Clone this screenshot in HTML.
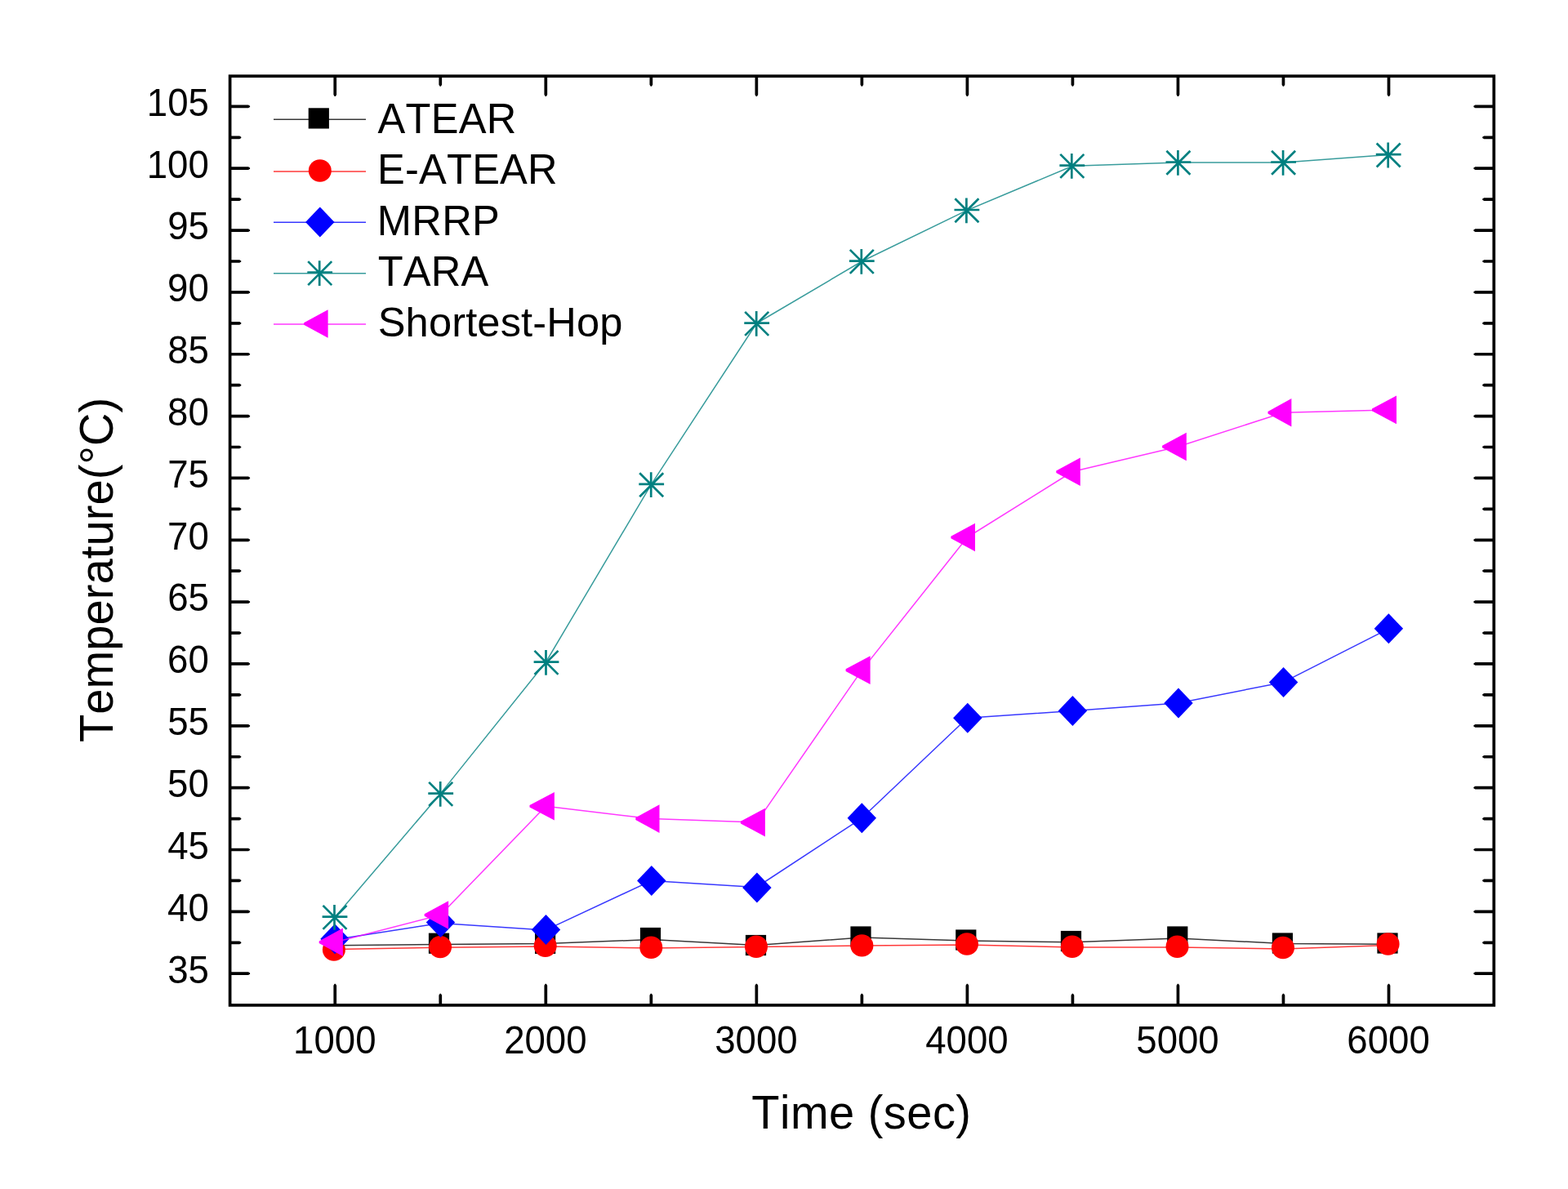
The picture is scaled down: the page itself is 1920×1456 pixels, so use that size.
<!DOCTYPE html>
<html lang="en"><head><meta charset="utf-8"><title>Temperature vs Time</title>
<style>
html,body{margin:0;padding:0;background:#fff;}
body{width:1920px;height:1456px;overflow:hidden;}
svg{display:block;font-family:"Liberation Sans",sans-serif;fill:#000;font-kerning:none;}
.ln{fill:none;stroke-width:1.5;stroke-opacity:.78;stroke-linejoin:round;}
.as{fill:none;stroke:#008080;stroke-width:2.7;}
.fr{fill:none;stroke:#000;stroke-width:3.7;stroke-linejoin:miter;}
.tl{font-size:45.6px;}
.lg{font-size:50.6px;}
.ax{font-size:56px;}
</style></head><body>
<svg width="1920" height="1456" viewBox="0 0 1920 1456" role="img" aria-label="Temperature versus time for five routing protocols">
<rect width="1920" height="1456" fill="#fff"/>
<g id="atear">
<polyline class="ln" stroke="#000" points="410.25,1157.7 539.27,1156.5 668.3,1155.6 797.33,1150.5 926.35,1157.5 1055.38,1148 1184.4,1152 1313.42,1153.8 1442.45,1149 1571.47,1155.5 1700.5,1156.3"/>
<rect x="524.9" y="1142.6" width="25.2" height="25.2" fill="#000"/>
<rect x="655" y="1142.8" width="25.2" height="25.2" fill="#000"/>
<rect x="783.9" y="1135.9" width="25.2" height="25.2" fill="#000"/>
<rect x="912.9" y="1144.9" width="25.2" height="25.2" fill="#000"/>
<rect x="1041.4" y="1134.4" width="25.2" height="25.2" fill="#000"/>
<rect x="1170.2" y="1138.4" width="25.2" height="25.2" fill="#000"/>
<rect x="1298.9" y="1139.9" width="25.2" height="25.2" fill="#000"/>
<rect x="1429.2" y="1134.4" width="25.2" height="25.2" fill="#000"/>
<rect x="1557.8" y="1142.4" width="25.2" height="25.2" fill="#000"/>
<rect x="1686.4" y="1142.4" width="25.2" height="25.2" fill="#000"/>
</g>
<g id="eatear">
<polyline class="ln" stroke="#f00" points="410.25,1162.5 539.27,1160.2 668.3,1159 797.33,1161 926.35,1159.5 1055.38,1158 1184.4,1157 1313.42,1160 1442.45,1160 1571.47,1162 1700.5,1157.5"/>
<ellipse cx="408.9" cy="1163" rx="14" ry="13.7" fill="#f00"/>
<ellipse cx="539.1" cy="1159.6" rx="14" ry="13.7" fill="#f00"/>
<ellipse cx="667.7" cy="1158.3" rx="14" ry="13.7" fill="#f00"/>
<ellipse cx="797.3" cy="1160.3" rx="14" ry="13.7" fill="#f00"/>
<ellipse cx="926" cy="1159.3" rx="14" ry="13.7" fill="#f00"/>
<ellipse cx="1055.4" cy="1157.9" rx="14" ry="13.7" fill="#f00"/>
<ellipse cx="1184" cy="1156" rx="14" ry="13.7" fill="#f00"/>
<ellipse cx="1312.9" cy="1159.3" rx="14" ry="13.7" fill="#f00"/>
<ellipse cx="1441.5" cy="1159.3" rx="14" ry="13.7" fill="#f00"/>
<ellipse cx="1571" cy="1160.5" rx="14" ry="13.7" fill="#f00"/>
<ellipse cx="1699.6" cy="1156" rx="14" ry="13.7" fill="#f00"/>
</g>
<g id="mrrp">
<polyline class="ln" stroke="#00f" points="410.25,1150.5 539.27,1130.5 668.3,1138.9 797.33,1078.6 926.35,1086.5 1055.38,1001.8 1184.4,879.3 1313.42,870.5 1442.45,861.1 1571.47,835.4 1700.5,769.8"/>
<path d="M392.3 1149.8L410 1131.3L427.7 1149.8L410 1168.3Z" fill="#00f"/>
<path d="M521.8 1129.6L539.5 1111.1L557.2 1129.6L539.5 1148.1Z" fill="#00f"/>
<path d="M650.8 1138.6L668.5 1120.1L686.2 1138.6L668.5 1157.1Z" fill="#00f"/>
<path d="M780.1 1078.4L797.8 1059.9L815.5 1078.4L797.8 1096.9Z" fill="#00f"/>
<path d="M909.2 1086.9L926.9 1068.4L944.6 1086.9L926.9 1105.4Z" fill="#00f"/>
<path d="M1037.6 1001.8L1055.3 983.3L1073 1001.8L1055.3 1020.3Z" fill="#00f"/>
<path d="M1167.1 879.3L1184.8 860.8L1202.5 879.3L1184.8 897.8Z" fill="#00f"/>
<path d="M1295.7 870.5L1313.4 852L1331.1 870.5L1313.4 889Z" fill="#00f"/>
<path d="M1425.3 861.1L1443 842.6L1460.7 861.1L1443 879.6Z" fill="#00f"/>
<path d="M1553.9 835.4L1571.6 816.9L1589.3 835.4L1571.6 853.9Z" fill="#00f"/>
<path d="M1682.7 769.8L1700.4 751.3L1718.1 769.8L1700.4 788.3Z" fill="#00f"/>
</g>
<g id="tara">
<polyline class="ln" stroke="#008080" points="410.25,1123 539.27,971.9 668.3,811 797.33,593.3 926.35,396 1055.38,320 1184.4,257.4 1313.42,203.2 1442.45,198.9 1571.47,198.9 1700.5,189.5"/>
<path class="as" d="M394.6 1122.6H425.4M409.5 1108V1138.8M395.5 1108.9L424.5 1137.9M395.5 1137.9L424.5 1108.9"/>
<path class="as" d="M524.3 971.6H555.1M539.2 957V987.8M525.2 957.9L554.2 986.9M525.2 986.9L554.2 957.9"/>
<path class="as" d="M653.6 810.6H684.4M668.5 796V826.8M654.5 796.9L683.5 825.9M654.5 825.9L683.5 796.9"/>
<path class="as" d="M782.3 592.9H813.1M797.2 578.3V609.1M783.2 579.2L812.2 608.2M783.2 608.2L812.2 579.2"/>
<path class="as" d="M911.3 395.6H942.1M926.2 381V411.8M912.2 381.9L941.2 410.9M912.2 410.9L941.2 381.9"/>
<path class="as" d="M1039.9 319.6H1070.7M1054.8 305V335.8M1040.8 305.9L1069.8 334.9M1040.8 334.9L1069.8 305.9"/>
<path class="as" d="M1168.5 257H1199.3M1183.4 242.4V273.2M1169.4 243.3L1198.4 272.3M1169.4 272.3L1198.4 243.3"/>
<path class="as" d="M1297.4 202.6H1328.2M1312.3 188V218.8M1298.3 188.9L1327.3 217.9M1298.3 217.9L1327.3 188.9"/>
<path class="as" d="M1427.5 198.5H1458.3M1442.4 183.9V214.7M1428.4 184.8L1457.4 213.8M1428.4 213.8L1457.4 184.8"/>
<path class="as" d="M1556.2 198.5H1587M1571.1 183.9V214.7M1557.1 184.8L1586.1 213.8M1557.1 213.8L1586.1 184.8"/>
<path class="as" d="M1684.8 189.2H1715.6M1699.7 174.6V205.4M1685.7 175.5L1714.7 204.5M1685.7 204.5L1714.7 175.5"/>
</g>
<g id="shortest">
<polyline class="ln" stroke="#f0f" points="410.25,1153.7 539.27,1120.5 668.3,987.3 797.33,1002.6 926.35,1007.1 1055.38,820.6 1184.4,658 1313.42,577.5 1442.45,547 1571.47,505.3 1700.5,501.9"/>
<path d="M390.7 1152.4L419.9 1136.4L419.9 1171L390.7 1155Z" fill="#f0f"/>
<path d="M519.65 1119.2L549.1 1103.2L549.1 1137.8L519.65 1121.8Z" fill="#f0f"/>
<path d="M648.5 986L678.9 970L678.9 1004.6L648.5 988.6Z" fill="#f0f"/>
<path d="M778.3 1001.3L807.5 985.3L807.5 1019.9L778.3 1003.9Z" fill="#f0f"/>
<path d="M906.9 1005.8L936.9 989.8L936.9 1024.4L906.9 1008.4Z" fill="#f0f"/>
<path d="M1035.6 819.3L1065.6 803.3L1065.6 837.9L1035.6 821.9Z" fill="#f0f"/>
<path d="M1164.4 656.7L1194 640.7L1194 675.3L1164.4 659.3Z" fill="#f0f"/>
<path d="M1293.3 576.5L1322.8 560.5L1322.8 595.1L1293.3 579.1Z" fill="#f0f"/>
<path d="M1423.1 545.7L1452.8 529.7L1452.8 564.3L1423.1 548.3Z" fill="#f0f"/>
<path d="M1552.5 504L1581.4 488L1581.4 522.6L1552.5 506.6Z" fill="#f0f"/>
<path d="M1680 500.6L1710 484.6L1710 519.2L1680 503.2Z" fill="#f0f"/>
</g>
<path id="ticks" fill="#000" d="M408.4 1230.9L408.4 1206.8L409.65 1204.8L410.85 1204.8L412.1 1206.8L412.1 1230.9ZM412.1 93.2L412.1 116.1L410.85 118.1L409.65 118.1L408.4 116.1L408.4 93.2ZM537.42 1230.9L537.42 1218.8L538.67 1216.8L539.88 1216.8L541.12 1218.8L541.12 1230.9ZM541.12 93.2L541.12 103.8L539.88 105.8L538.67 105.8L537.42 103.8L537.42 93.2ZM666.45 1230.9L666.45 1206.8L667.7 1204.8L668.9 1204.8L670.15 1206.8L670.15 1230.9ZM670.15 93.2L670.15 116.1L668.9 118.1L667.7 118.1L666.45 116.1L666.45 93.2ZM795.48 1230.9L795.48 1218.8L796.73 1216.8L797.93 1216.8L799.18 1218.8L799.18 1230.9ZM799.18 93.2L799.18 103.8L797.93 105.8L796.73 105.8L795.48 103.8L795.48 93.2ZM924.5 1230.9L924.5 1206.8L925.75 1204.8L926.95 1204.8L928.2 1206.8L928.2 1230.9ZM928.2 93.2L928.2 116.1L926.95 118.1L925.75 118.1L924.5 116.1L924.5 93.2ZM1053.53 1230.9L1053.53 1218.8L1054.78 1216.8L1055.97 1216.8L1057.22 1218.8L1057.22 1230.9ZM1057.22 93.2L1057.22 103.8L1055.97 105.8L1054.78 105.8L1053.53 103.8L1053.53 93.2ZM1182.55 1230.9L1182.55 1206.8L1183.8 1204.8L1185 1204.8L1186.25 1206.8L1186.25 1230.9ZM1186.25 93.2L1186.25 116.1L1185 118.1L1183.8 118.1L1182.55 116.1L1182.55 93.2ZM1311.58 1230.9L1311.58 1218.8L1312.83 1216.8L1314.02 1216.8L1315.27 1218.8L1315.27 1230.9ZM1315.27 93.2L1315.27 103.8L1314.02 105.8L1312.83 105.8L1311.58 103.8L1311.58 93.2ZM1440.6 1230.9L1440.6 1206.8L1441.85 1204.8L1443.05 1204.8L1444.3 1206.8L1444.3 1230.9ZM1444.3 93.2L1444.3 116.1L1443.05 118.1L1441.85 118.1L1440.6 116.1L1440.6 93.2ZM1569.62 1230.9L1569.62 1218.8L1570.88 1216.8L1572.07 1216.8L1573.32 1218.8L1573.32 1230.9ZM1573.32 93.2L1573.32 103.8L1572.07 105.8L1570.88 105.8L1569.62 103.8L1569.62 93.2ZM1698.65 1230.9L1698.65 1206.8L1699.9 1204.8L1701.1 1204.8L1702.35 1206.8L1702.35 1230.9ZM1702.35 93.2L1702.35 116.1L1701.1 118.1L1699.9 118.1L1698.65 116.1L1698.65 93.2ZM281.6 1190.35L304.1 1190.35L306.1 1191.6L306.1 1192.8L304.1 1194.05L281.6 1194.05ZM1829.3 1194.05L1806.4 1194.05L1804.4 1192.8L1804.4 1191.6L1806.4 1190.35L1829.3 1190.35ZM281.6 1152.43L293.3 1152.43L295.3 1153.68L295.3 1154.88L293.3 1156.13L281.6 1156.13ZM1829.3 1156.13L1817.2 1156.13L1815.2 1154.88L1815.2 1153.68L1817.2 1152.43L1829.3 1152.43ZM281.6 1114.51L304.1 1114.51L306.1 1115.76L306.1 1116.95L304.1 1118.2L281.6 1118.2ZM1829.3 1118.2L1806.4 1118.2L1804.4 1116.95L1804.4 1115.76L1806.4 1114.51L1829.3 1114.51ZM281.6 1076.58L293.3 1076.58L295.3 1077.83L295.3 1079.03L293.3 1080.28L281.6 1080.28ZM1829.3 1080.28L1817.2 1080.28L1815.2 1079.03L1815.2 1077.83L1817.2 1076.58L1829.3 1076.58ZM281.6 1038.66L304.1 1038.66L306.1 1039.91L306.1 1041.11L304.1 1042.36L281.6 1042.36ZM1829.3 1042.36L1806.4 1042.36L1804.4 1041.11L1804.4 1039.91L1806.4 1038.66L1829.3 1038.66ZM281.6 1000.74L293.3 1000.74L295.3 1001.99L295.3 1003.19L293.3 1004.44L281.6 1004.44ZM1829.3 1004.44L1817.2 1004.44L1815.2 1003.19L1815.2 1001.99L1817.2 1000.74L1829.3 1000.74ZM281.6 962.82L304.1 962.82L306.1 964.07L306.1 965.27L304.1 966.52L281.6 966.52ZM1829.3 966.52L1806.4 966.52L1804.4 965.27L1804.4 964.07L1806.4 962.82L1829.3 962.82ZM281.6 924.89L293.3 924.89L295.3 926.14L295.3 927.34L293.3 928.59L281.6 928.59ZM1829.3 928.59L1817.2 928.59L1815.2 927.34L1815.2 926.14L1817.2 924.89L1829.3 924.89ZM281.6 886.97L304.1 886.97L306.1 888.22L306.1 889.42L304.1 890.67L281.6 890.67ZM1829.3 890.67L1806.4 890.67L1804.4 889.42L1804.4 888.22L1806.4 886.97L1829.3 886.97ZM281.6 849.05L293.3 849.05L295.3 850.3L295.3 851.5L293.3 852.75L281.6 852.75ZM1829.3 852.75L1817.2 852.75L1815.2 851.5L1815.2 850.3L1817.2 849.05L1829.3 849.05ZM281.6 811.12L304.1 811.12L306.1 812.38L306.1 813.58L304.1 814.83L281.6 814.83ZM1829.3 814.83L1806.4 814.83L1804.4 813.58L1804.4 812.38L1806.4 811.12L1829.3 811.12ZM281.6 773.2L293.3 773.2L295.3 774.45L295.3 775.65L293.3 776.9L281.6 776.9ZM1829.3 776.9L1817.2 776.9L1815.2 775.65L1815.2 774.45L1817.2 773.2L1829.3 773.2ZM281.6 735.28L304.1 735.28L306.1 736.53L306.1 737.73L304.1 738.98L281.6 738.98ZM1829.3 738.98L1806.4 738.98L1804.4 737.73L1804.4 736.53L1806.4 735.28L1829.3 735.28ZM281.6 697.36L293.3 697.36L295.3 698.61L295.3 699.81L293.3 701.06L281.6 701.06ZM1829.3 701.06L1817.2 701.06L1815.2 699.81L1815.2 698.61L1817.2 697.36L1829.3 697.36ZM281.6 659.44L304.1 659.44L306.1 660.69L306.1 661.89L304.1 663.14L281.6 663.14ZM1829.3 663.14L1806.4 663.14L1804.4 661.89L1804.4 660.69L1806.4 659.44L1829.3 659.44ZM281.6 621.51L293.3 621.51L295.3 622.76L295.3 623.96L293.3 625.21L281.6 625.21ZM1829.3 625.21L1817.2 625.21L1815.2 623.96L1815.2 622.76L1817.2 621.51L1829.3 621.51ZM281.6 583.59L304.1 583.59L306.1 584.84L306.1 586.04L304.1 587.29L281.6 587.29ZM1829.3 587.29L1806.4 587.29L1804.4 586.04L1804.4 584.84L1806.4 583.59L1829.3 583.59ZM281.6 545.67L293.3 545.67L295.3 546.92L295.3 548.12L293.3 549.37L281.6 549.37ZM1829.3 549.37L1817.2 549.37L1815.2 548.12L1815.2 546.92L1817.2 545.67L1829.3 545.67ZM281.6 507.75L304.1 507.75L306.1 509L306.1 510.2L304.1 511.45L281.6 511.45ZM1829.3 511.45L1806.4 511.45L1804.4 510.2L1804.4 509L1806.4 507.75L1829.3 507.75ZM281.6 469.82L293.3 469.82L295.3 471.07L295.3 472.27L293.3 473.52L281.6 473.52ZM1829.3 473.52L1817.2 473.52L1815.2 472.27L1815.2 471.07L1817.2 469.82L1829.3 469.82ZM281.6 431.9L304.1 431.9L306.1 433.15L306.1 434.35L304.1 435.6L281.6 435.6ZM1829.3 435.6L1806.4 435.6L1804.4 434.35L1804.4 433.15L1806.4 431.9L1829.3 431.9ZM281.6 393.98L293.3 393.98L295.3 395.23L295.3 396.43L293.3 397.68L281.6 397.68ZM1829.3 397.68L1817.2 397.68L1815.2 396.43L1815.2 395.23L1817.2 393.98L1829.3 393.98ZM281.6 356.05L304.1 356.05L306.1 357.3L306.1 358.5L304.1 359.75L281.6 359.75ZM1829.3 359.75L1806.4 359.75L1804.4 358.5L1804.4 357.3L1806.4 356.05L1829.3 356.05ZM281.6 318.13L293.3 318.13L295.3 319.38L295.3 320.58L293.3 321.83L281.6 321.83ZM1829.3 321.83L1817.2 321.83L1815.2 320.58L1815.2 319.38L1817.2 318.13L1829.3 318.13ZM281.6 280.21L304.1 280.21L306.1 281.46L306.1 282.66L304.1 283.91L281.6 283.91ZM1829.3 283.91L1806.4 283.91L1804.4 282.66L1804.4 281.46L1806.4 280.21L1829.3 280.21ZM281.6 242.29L293.3 242.29L295.3 243.54L295.3 244.74L293.3 245.99L281.6 245.99ZM1829.3 245.99L1817.2 245.99L1815.2 244.74L1815.2 243.54L1817.2 242.29L1829.3 242.29ZM281.6 204.37L304.1 204.37L306.1 205.62L306.1 206.82L304.1 208.07L281.6 208.07ZM1829.3 208.07L1806.4 208.07L1804.4 206.82L1804.4 205.62L1806.4 204.37L1829.3 204.37ZM281.6 166.44L293.3 166.44L295.3 167.69L295.3 168.89L293.3 170.14L281.6 170.14ZM1829.3 170.14L1817.2 170.14L1815.2 168.89L1815.2 167.69L1817.2 166.44L1829.3 166.44ZM281.6 128.52L304.1 128.52L306.1 129.77L306.1 130.97L304.1 132.22L281.6 132.22ZM1829.3 132.22L1806.4 132.22L1804.4 130.97L1804.4 129.77L1806.4 128.52L1829.3 128.52Z"/>
<rect class="fr" x="281.6" y="93.2" width="1547.7" height="1137.7"/>
<g id="ylabels">
<text class="tl" transform="translate(205.19 1203.5) scale(1 1.07)">35</text>
<text class="tl" transform="translate(205.06 1127.65) scale(1 1.07)">40</text>
<text class="tl" transform="translate(205.19 1051.81) scale(1 1.07)">45</text>
<text class="tl" transform="translate(205.06 975.97) scale(1 1.07)">50</text>
<text class="tl" transform="translate(205.19 900.12) scale(1 1.07)">55</text>
<text class="tl" transform="translate(205.06 824.27) scale(1 1.07)">60</text>
<text class="tl" transform="translate(205.19 748.43) scale(1 1.07)">65</text>
<text class="tl" transform="translate(205.06 672.59) scale(1 1.07)">70</text>
<text class="tl" transform="translate(205.19 596.74) scale(1 1.07)">75</text>
<text class="tl" transform="translate(205.06 520.89) scale(1 1.07)">80</text>
<text class="tl" transform="translate(205.19 445.05) scale(1 1.07)">85</text>
<text class="tl" transform="translate(205.06 369.2) scale(1 1.07)">90</text>
<text class="tl" transform="translate(205.19 293.36) scale(1 1.07)">95</text>
<text class="tl" transform="translate(179.7 217.52) scale(1 1.07)">100</text>
<text class="tl" transform="translate(179.83 141.67) scale(1 1.07)">105</text>
</g>
<g id="xlabels">
<text class="tl" transform="translate(359.09 1290) scale(1 1.07)">1000</text>
<text class="tl" transform="translate(617.14 1290) scale(1 1.07)">2000</text>
<text class="tl" transform="translate(875.19 1290) scale(1 1.07)">3000</text>
<text class="tl" transform="translate(1133.24 1290) scale(1 1.07)">4000</text>
<text class="tl" transform="translate(1391.29 1290) scale(1 1.07)">5000</text>
<text class="tl" transform="translate(1649.34 1290) scale(1 1.07)">6000</text>
</g>
<text class="ax" transform="translate(920.34 1381.6) scale(1 1.01)" letter-spacing="0.477">Time (sec)</text>
<text class="ax" transform="translate(138.3 908.96) rotate(-90) scale(1 1.01)" letter-spacing="0.101">Temperature(°C)</text>
<g id="legend">
<path class="ln" stroke="#000" d="M335 146.3H448"/>
<path class="ln" stroke="#f00" d="M335 210H448"/>
<path class="ln" stroke="#00f" d="M335 272.3H448"/>
<path class="ln" stroke="#008080" d="M335 334.8H448"/>
<path class="ln" stroke="#f0f" d="M335 397H448"/>
<rect x="377.7" y="132.3" width="25.2" height="25.2" fill="#000"/>
<ellipse cx="391.8" cy="209" rx="14" ry="13.7" fill="#f00"/>
<path d="M374.1 271.9L391.8 253.4L409.5 271.9L391.8 290.4Z" fill="#00f"/>
<path class="as" d="M376.3 333.5H407.1M391.2 319.2V350M377.2 320.1L406.2 349.1M377.2 349.1L406.2 320.1"/>
<path d="M372.1 395.2L401.6 379.2L401.6 413.8L372.1 397.8Z" fill="#f0f"/>
<text class="lg" transform="translate(462.4 163) scale(1 1.04)" letter-spacing="0.312">ATEAR</text>
<text class="lg" transform="translate(462.05 225) scale(1 1.04)" letter-spacing="0.216">E-ATEAR</text>
<text class="lg" transform="translate(461.65 288) scale(1 1.04)" letter-spacing="0.412">MRRP</text>
<text class="lg" transform="translate(462.66 350) scale(1 1.04)" letter-spacing="0.262">TARA</text>
<text class="lg" transform="translate(462.7 412)" letter-spacing="0.146">Shortest-Hop</text>
</g>
</svg>
</body></html>
